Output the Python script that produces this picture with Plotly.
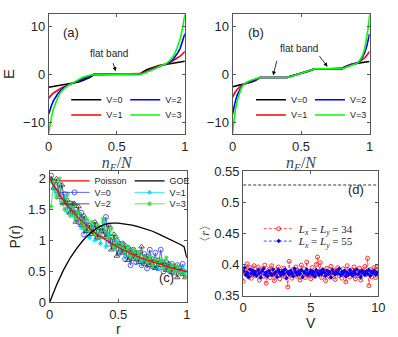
import plotly.graph_objects as go

# ---------------- panel (a) ----------------
xa = [0, 0.01, 0.02, 0.035, 0.05, 0.07, 0.09, 0.12, 0.145, 0.165, 0.19, 0.22, 0.25, 0.28, 0.3, 0.32, 0.333,
      0.4, 0.5, 0.6, 0.667, 0.68, 0.7, 0.72, 0.75, 0.78, 0.81, 0.835, 0.86, 0.89, 0.915, 0.935, 0.95, 0.965,
      0.98, 0.99, 1.0]
Ea_V0 = [-2.7, -2.65, -2.6, -2.5, -2.45, -2.35, -2.25, -2.15, -2.05, -2.0, -1.85, -1.6, -1.3, -0.95, -0.65, -0.3, 0,
         0, 0, 0, 0, 0.3, 0.65, 0.95, 1.3, 1.6, 1.85, 1.95, 2.05, 2.2, 2.3, 2.4, 2.45, 2.55, 2.65, 2.7, 2.75]
Ea_V1 = [-5.0, -4.6, -4.3, -3.9, -3.6, -3.2, -2.9, -2.5, -2.2, -2.0, -1.75, -1.4, -1.0, -0.65, -0.4, -0.15, 0,
         0, 0, 0, 0, 0.15, 0.4, 0.7, 1.05, 1.45, 1.75, 1.95, 2.15, 2.5, 2.9, 3.2, 3.5, 3.8, 4.2, 4.5, 4.8]
Ea_V2 = [-8.3, -7.3, -6.5, -5.5, -4.7, -3.9, -3.3, -2.6, -2.25, -2.0, -1.7, -1.25, -0.85, -0.5, -0.3, -0.12, 0,
         0, 0, 0, 0, 0.12, 0.3, 0.55, 0.95, 1.35, 1.7, 1.9, 2.1, 2.6, 3.2, 3.9, 4.6, 5.4, 6.6, 7.5, 8.5]
Ea_V3 = [-12.3, -10.5, -9.0, -7.2, -5.9, -4.6, -3.7, -2.8, -2.3, -2.0, -1.6, -1.0, -0.6, -0.35, -0.2, -0.08, 0,
         0, 0, 0, 0, 0.1, 0.25, 0.45, 0.8, 1.2, 1.6, 1.85, 2.2, 2.9, 3.8, 4.9, 6.0, 7.4, 9.2, 10.7, 12.5]

# ---------------- panel (b) ----------------
xb = [0, 0.01, 0.02, 0.035, 0.05, 0.065, 0.085, 0.11, 0.14, 0.17, 0.19, 0.2, 0.3, 0.4, 0.42, 0.45, 0.5, 0.55,
      0.58, 0.6, 0.7, 0.8, 0.81, 0.83, 0.86, 0.89, 0.91, 0.93, 0.95, 0.965, 0.98, 0.99, 1.0]
Eb_V0 = [-2.6, -2.55, -2.5, -2.4, -2.3, -2.15, -2.0, -1.85, -1.6, -1.25, -0.9, -0.67, -0.67, -0.67, -0.38, -0.1,
         0.24, 0.6, 0.9, 1.15, 1.15, 1.15, 1.45, 1.75, 2.05, 2.25, 2.35, 2.45, 2.5, 2.55, 2.6, 2.65, 2.7]
Eb_V1 = [-4.8, -4.2, -3.7, -3.1, -2.7, -2.35, -2.0, -1.75, -1.45, -1.1, -0.82, -0.67, -0.67, -0.67, -0.45, -0.18,
         0.24, 0.68, 0.97, 1.15, 1.15, 1.15, 1.35, 1.65, 2.0, 2.25, 2.35, 2.7, 3.1, 3.5, 4.0, 4.4, 4.8]
Eb_V2 = [-8.4, -6.9, -5.7, -4.3, -3.3, -2.6, -2.0, -1.65, -1.35, -1.0, -0.78, -0.67, -0.67, -0.67, -0.48, -0.2,
         0.24, 0.7, 0.98, 1.15, 1.15, 1.15, 1.3, 1.6, 1.95, 2.2, 2.35, 2.9, 3.7, 4.6, 6.0, 7.1, 8.5]
Eb_V3 = [-12.3, -9.6, -7.6, -5.4, -3.9, -2.8, -2.0, -1.55, -1.2, -0.9, -0.72, -0.67, -0.67, -0.67, -0.5, -0.2,
         0.24, 0.7, 0.98, 1.15, 1.15, 1.15, 1.25, 1.5, 1.85, 2.15, 2.35, 3.0, 4.1, 5.5, 7.7, 9.8, 12.5]

# ---------------- panel (c) ----------------
r_poi = [0, 0.1, 0.2, 0.3, 0.4, 0.5, 0.6, 0.7, 0.8, 0.9, 1.0]
P_poi = [2.0, 1.65, 1.39, 1.18, 1.02, 0.89, 0.78, 0.69, 0.62, 0.55, 0.5]
r_goe = [0, 0.05, 0.1, 0.15, 0.2, 0.25, 0.3, 0.35, 0.4, 0.45, 0.5, 0.55, 0.6, 0.65, 0.7, 0.75, 0.8, 0.85,
         0.9, 0.95, 0.98, 1.0]
P_goe = [0, 0.28, 0.52, 0.72, 0.88, 1.02, 1.13, 1.21, 1.26, 1.28, 1.28, 1.27, 1.25, 1.22, 1.19, 1.15, 1.10,
         1.05, 1.0, 0.94, 0.9, 0.72]
r_bins = [0.01, 0.03, 0.05, 0.07, 0.09, 0.11, 0.13, 0.15, 0.17, 0.19, 0.21, 0.23, 0.25, 0.27, 0.29, 0.31, 0.33,
          0.35, 0.37, 0.39, 0.41, 0.43, 0.45, 0.47, 0.49, 0.51, 0.53, 0.55, 0.57, 0.59, 0.61, 0.63, 0.65, 0.67,
          0.69, 0.71, 0.73, 0.75, 0.77, 0.79, 0.81, 0.83, 0.85, 0.87, 0.89, 0.91, 0.93, 0.95, 0.97, 0.99]
Pc_V0 = [2.05, 1.95, 1.80, 1.90, 1.65, 1.75, 1.50, 1.60, 1.45, 1.50, 1.30, 1.45, 1.10, 1.30, 1.20, 1.15, 1.25,
         1.05, 1.20, 1.10, 1.38, 0.95, 1.05, 0.90, 1.00, 0.80, 0.95, 0.70, 0.88, 0.60, 0.85, 0.65, 0.80, 0.60,
         0.78, 0.55, 0.85, 0.58, 0.80, 0.55, 0.85, 0.50, 0.65, 0.52, 0.62, 0.48, 0.60, 0.50, 0.62, 0.45]
Pc_V1 = [1.95, 1.85, 1.75, 1.78, 1.60, 1.70, 1.45, 1.55, 1.40, 1.35, 1.45, 1.20, 1.35, 1.15, 1.05, 1.25, 1.00,
         1.20, 0.95, 1.30, 0.90, 1.10, 0.95, 0.88, 0.98, 0.80, 0.90, 0.75, 0.85, 0.72, 0.78, 0.70, 0.75, 0.62,
         0.70, 0.65, 0.72, 0.58, 0.68, 0.55, 0.65, 0.58, 0.62, 0.50, 0.60, 0.52, 0.58, 0.48, 0.55, 0.50]
Pc_V2 = [2.00, 1.85, 2.00, 1.70, 1.90, 1.60, 1.65, 1.45, 1.60, 1.30, 1.55, 1.25, 1.40, 1.15, 1.25, 1.10, 1.30,
         1.05, 1.20, 1.15, 1.05, 1.25, 0.85, 1.10, 0.75, 0.95, 0.80, 0.92, 0.68, 0.85, 0.70, 0.80, 0.65, 0.90,
         0.62, 0.75, 0.60, 0.70, 0.55, 0.68, 0.60, 0.65, 0.52, 0.62, 0.48, 0.58, 0.40, 0.55, 0.45, 0.40]
Pc_V3 = [1.55, 1.95, 1.70, 2.00, 1.60, 1.50, 1.75, 1.40, 1.55, 1.35, 1.45, 1.30, 1.20, 1.35, 1.15, 1.30, 1.10,
         1.25, 1.05, 1.35, 1.15, 1.05, 1.20, 0.90, 1.05, 0.88, 0.95, 0.82, 0.90, 0.75, 0.85, 0.72, 0.80, 0.68,
         0.72, 0.65, 0.75, 0.60, 0.70, 0.62, 0.68, 0.55, 0.72, 0.52, 0.60, 0.50, 0.58, 0.48, 0.50, 0.42]

# ---------------- panel (d) ----------------
V_vals = [0.0, 0.1, 0.2, 0.3, 0.4, 0.5, 0.6, 0.7, 0.8, 0.9, 1.0, 1.1, 1.2, 1.3, 1.4, 1.5, 1.6, 1.7, 1.8, 1.9,
          2.0, 2.1, 2.2, 2.3, 2.4, 2.5, 2.6, 2.7, 2.8, 2.9, 3.0, 3.1, 3.2, 3.3, 3.4, 3.5, 3.6, 3.7, 3.8, 3.9,
          4.0, 4.1, 4.2, 4.3, 4.4, 4.5, 4.6, 4.7, 4.8, 4.9, 5.0, 5.1, 5.2, 5.3, 5.4, 5.5, 5.6, 5.7, 5.8, 5.9,
          6.0, 6.1, 6.2, 6.3, 6.4, 6.5, 6.6, 6.7, 6.8, 6.9, 7.0, 7.1, 7.2, 7.3, 7.4, 7.5, 7.6, 7.7, 7.8, 7.9,
          8.0, 8.1, 8.2, 8.3, 8.4, 8.5, 8.6, 8.7, 8.8, 8.9, 9.0, 9.1, 9.2, 9.3, 9.4, 9.5, 9.6, 9.7, 9.8, 9.9,
          10.0]
r_L34 = [0.373, 0.392, 0.386, 0.401, 0.380, 0.395, 0.378, 0.390, 0.398, 0.382,
         0.385, 0.396, 0.375, 0.389, 0.393, 0.381, 0.399, 0.370, 0.387, 0.392,
         0.379, 0.398, 0.384, 0.374, 0.391, 0.386, 0.396, 0.377, 0.389, 0.383,
         0.394, 0.380, 0.388, 0.364, 0.405, 0.384, 0.378, 0.392, 0.387, 0.396,
         0.381, 0.390, 0.375, 0.399, 0.386, 0.393, 0.379, 0.404, 0.383, 0.389,
         0.377, 0.395, 0.385, 0.381, 0.400, 0.412, 0.388, 0.403, 0.379, 0.391,
         0.384, 0.374, 0.394, 0.387, 0.380, 0.397, 0.383, 0.391, 0.376, 0.389,
         0.395, 0.382, 0.386, 0.378, 0.393, 0.389, 0.372, 0.398, 0.385, 0.380,
         0.391, 0.384, 0.396, 0.377, 0.388, 0.382, 0.394, 0.375, 0.390, 0.386,
         0.397, 0.384, 0.410, 0.366, 0.392, 0.380, 0.388, 0.395, 0.379, 0.396,
         0.385]
r_L55 = [0.389, 0.395, 0.383, 0.387, 0.380, 0.392, 0.385, 0.390, 0.384, 0.388,
         0.382, 0.391, 0.386, 0.379, 0.389, 0.393, 0.384, 0.387, 0.381, 0.390,
         0.386, 0.383, 0.392, 0.385, 0.388, 0.380, 0.391, 0.387, 0.383, 0.389,
         0.385, 0.392, 0.378, 0.388, 0.384, 0.390, 0.386, 0.381, 0.393, 0.387,
         0.383, 0.389, 0.385, 0.391, 0.380, 0.388, 0.386, 0.392, 0.383, 0.387,
         0.390, 0.384, 0.388, 0.381, 0.391, 0.386, 0.383, 0.389, 0.385, 0.392,
         0.387, 0.382, 0.390, 0.385, 0.388, 0.379, 0.391, 0.386, 0.384, 0.389,
         0.386, 0.393, 0.383, 0.388, 0.385, 0.390, 0.381, 0.387, 0.384, 0.391,
         0.386, 0.382, 0.389, 0.385, 0.392, 0.384, 0.388, 0.380, 0.390, 0.386,
         0.383, 0.389, 0.385, 0.391, 0.382, 0.388, 0.386, 0.390, 0.384, 0.387,
         0.385]
V_ref = [0, 10]
r_goe_ref = [0.528, 0.528]
r_poi_ref = [0.386, 0.386]

W, H = 398, 337
SANS = "Liberation Sans, Arial, sans-serif"
SERIF = "Liberation Serif, DejaVu Serif, serif"
TXT = "#262626"


def px(x):
    return x / W


def py(y):
    return 1 - y / H


fig = go.Figure()

band_colors = {"V=0": "#000000", "V=1": "#ff0000", "V=2": "#0000ff", "V=3": "#00ff00"}
row_of = {"V=0": 0, "V=2": 0, "V=1": 1, "V=3": 1}
rank_of = {"V=0": 1, "V=2": 2, "V=1": 1, "V=3": 2}

for (xs, sets, xa_, ya_, legs) in [
    (xa, [("V=0", Ea_V0), ("V=1", Ea_V1), ("V=2", Ea_V2), ("V=3", Ea_V3)], "x", "y", ("legend", "legend2")),
    (xb, [("V=0", Eb_V0), ("V=1", Eb_V1), ("V=2", Eb_V2), ("V=3", Eb_V3)], "x2", "y2", ("legend3", "legend4")),
]:
    for name, ys in sets:
        fig.add_trace(go.Scatter(x=xs, y=ys, mode="lines", name=name, xaxis=xa_, yaxis=ya_,
                                 line=dict(color=band_colors[name], width=1.6),
                                 legend=legs[row_of[name]], legendrank=rank_of[name]))

# panel (c)
fig.add_trace(go.Scatter(x=r_bins, y=Pc_V0, mode="lines+markers", name="V=0", xaxis="x3", yaxis="y3",
                         line=dict(color="#3333ff", width=0.8),
                         marker=dict(symbol="circle-open", size=5, color="#3333ff", line=dict(width=0.8)),
                         legend="legend6", legendrank=1))
fig.add_trace(go.Scatter(x=r_bins, y=Pc_V1, mode="lines+markers", name="V=1", xaxis="x3", yaxis="y3",
                         line=dict(color="#00e5ff", width=0.8),
                         marker=dict(symbol="asterisk-open", size=4, color="#00e5ff", line=dict(width=1)),
                         legend="legend6", legendrank=2))
fig.add_trace(go.Scatter(x=r_bins, y=Pc_V2, mode="lines+markers", name="V=2", xaxis="x3", yaxis="y3",
                         line=dict(color="#333333", width=0.8),
                         marker=dict(symbol="triangle-up-open", size=5, color="#333333", line=dict(width=0.8)),
                         legend="legend7", legendrank=1))
fig.add_trace(go.Scatter(x=r_bins, y=Pc_V3, mode="lines+markers", name="V=3", xaxis="x3", yaxis="y3",
                         line=dict(color="#33dd33", width=0.8),
                         marker=dict(symbol="asterisk-open", size=4, color="#33dd33", line=dict(width=1)),
                         legend="legend7", legendrank=2))
fig.add_trace(go.Scatter(x=r_poi, y=P_poi, mode="lines", name="Poisson", xaxis="x3", yaxis="y3",
                         line=dict(color="#ff0000", width=1.3, shape="spline"),
                         legend="legend5", legendrank=1))
fig.add_trace(go.Scatter(x=r_goe, y=P_goe, mode="lines", name="GOE", xaxis="x3", yaxis="y3",
                         line=dict(color="#000000", width=1.3),
                         legend="legend5", legendrank=2))

# panel (d)
fig.add_trace(go.Scatter(x=V_ref, y=r_goe_ref, mode="lines", showlegend=False, xaxis="x4", yaxis="y4",
                         line=dict(color="#000000", width=0.8, dash="3px,2px")))
fig.add_trace(go.Scatter(x=V_ref, y=r_poi_ref, mode="lines", showlegend=False, xaxis="x4", yaxis="y4",
                         line=dict(color="#000000", width=0.8, dash="3px,2px")))
fig.add_trace(go.Scatter(x=V_vals, y=r_L34, mode="lines+markers",
                         name="<i>L<sub>x</sub></i> = <i>L<sub>y</sub></i> = 34",
                         xaxis="x4", yaxis="y4",
                         line=dict(color="#ff0000", width=0.7, dash="3px,2px"),
                         marker=dict(symbol="circle-open", size=4, color="#ff0000", line=dict(width=0.8)),
                         legend="legend8"))
fig.add_trace(go.Scatter(x=V_vals, y=r_L55, mode="lines+markers",
                         name="<i>L<sub>x</sub></i> = <i>L<sub>y</sub></i> = 55",
                         xaxis="x4", yaxis="y4",
                         line=dict(color="#0000ff", width=0.7, dash="3px,2px"),
                         marker=dict(symbol="diamond", size=3.5, color="#0000ff"),
                         legend="legend9"))

axis_common = dict(showline=True, linecolor="#555555", linewidth=1, mirror="ticks", ticks="inside",
                   ticklen=3, tickcolor="#555555", showgrid=False, zeroline=False,
                   tickfont=dict(family=SANS, size=13, color=TXT))

nE_title = "<i>n</i><sub><i>E</i></sub>/<i>N</i>"

fig.update_layout(
    width=W, height=H, margin=dict(l=0, r=0, t=0, b=0),
    paper_bgcolor="white", plot_bgcolor="white",
    font=dict(family=SANS, color=TXT),
    xaxis=dict(domain=[px(46), px(186)], anchor="y", range=[0, 1], tickvals=[0, 0.5, 1],
               ticktext=["0", "0.5", "1"],
               title=dict(text=nE_title, font=dict(family=SERIF, size=16, color="#444444"), standoff=0),
               **axis_common),
    yaxis=dict(domain=[py(133), py(7)], anchor="x", range=[-12.5, 12.7], tickvals=[-10, 0, 10],
               title=dict(text="E", font=dict(family=SANS, size=15, color=TXT), standoff=8), **axis_common),
    xaxis2=dict(domain=[px(235), px(376)], anchor="y2", range=[0, 1], tickvals=[0, 0.5, 1],
                ticktext=["0", "0.5", "1"],
                title=dict(text=nE_title, font=dict(family=SERIF, size=16, color="#444444"), standoff=0),
                **axis_common),
    yaxis2=dict(domain=[py(133), py(7)], anchor="x2", range=[-12.5, 12.7], tickvals=[-10, 0, 10],
                **axis_common),
    xaxis3=dict(domain=[px(47), px(188)], anchor="y3", range=[0, 1], tickvals=[0, 0.5, 1],
                ticktext=["0", "0.5", "1"],
                title=dict(text="r", font=dict(family=SANS, size=14, color=TXT), standoff=1), **axis_common),
    yaxis3=dict(domain=[py(309), py(172)], anchor="x3", range=[0, 2.12], tickvals=[0, 0.5, 1, 1.5, 2],
                ticktext=["0", "0.5", "1", "1.5", "2"],
                title=dict(text="P(r)", font=dict(family=SANS, size=14, color=TXT), standoff=4), **axis_common),
    xaxis4=dict(domain=[px(246), px(385)], anchor="y4", range=[0, 10], tickvals=[0, 5, 10],
                title=dict(text="V", font=dict(family=SANS, size=14, color=TXT), standoff=1), **axis_common),
    yaxis4=dict(domain=[py(302), py(172)], anchor="x4", range=[0.35, 0.55],
                tickvals=[0.35, 0.4, 0.45, 0.5, 0.55], ticktext=["0.35", "0.4", "0.45", "0.5", "0.55"],
                title=dict(text="〈<i>r</i>〉", font=dict(family=SERIF, size=12, color=TXT), standoff=2),
                **axis_common),
)

leg_common = dict(orientation="h", xanchor="left", yanchor="middle", bgcolor="rgba(0,0,0,0)",
                  font=dict(family=SANS, size=9, color=TXT), entrywidthmode="pixels",
                  tracegroupgap=0, itemwidth=30)
serif_leg = {**leg_common, "font": dict(family=SERIF, size=11, color=TXT)}
fig.update_layout(
    legend=dict(x=px(64), y=py(97), entrywidth=14, **leg_common),
    legend2=dict(x=px(64), y=py(113), entrywidth=14, **leg_common),
    legend3=dict(x=px(254), y=py(97), entrywidth=14, **leg_common),
    legend4=dict(x=px(254), y=py(113), entrywidth=14, **leg_common),
    legend5=dict(x=px(52), y=py(182), entrywidth=30, **leg_common),
    legend6=dict(x=px(52), y=py(194), entrywidth=30, **leg_common),
    legend7=dict(x=px(52), y=py(206), entrywidth=30, **leg_common),
    legend8=dict(x=px(262), y=py(232), **serif_leg),
    legend9=dict(x=px(262), y=py(245), **serif_leg),
)

ann = []
lab_font = dict(family=SANS, size=13, color=TXT)
ann.append(dict(text="(a)", x=0.089, y=0.92, xref="x domain", yref="y domain", showarrow=False, font=lab_font))
ann.append(dict(text="(b)", x=0.096, y=0.92, xref="x2 domain", yref="y2 domain", showarrow=False, font=lab_font))
ann.append(dict(text="(c)", x=0.918, y=0.113, xref="x3 domain", yref="y3 domain", showarrow=False, font=lab_font))
ann.append(dict(text="(d)", x=0.91, y=0.931, xref="x4 domain", yref="y4 domain", showarrow=False, font=lab_font))
fb_font = dict(family=SANS, size=10, color=TXT)
ann.append(dict(text="flat band", x=0.443, y=4.4, xref="x", yref="y", showarrow=False, font=fb_font))
ann.append(dict(text="", x=0.493, y=0.66, ax=0.469, ay=2.66, xref="x", yref="y", axref="x", ayref="y",
                showarrow=True, arrowhead=2, arrowsize=1, arrowwidth=0.8, arrowcolor="#000000"))
ann.append(dict(text="flat band", x=0.484, y=5.33, xref="x2", yref="y2", showarrow=False, font=fb_font))
ann.append(dict(text="", x=0.296, y=-0.2, ax=0.326, ay=3.14, xref="x2", yref="y2", axref="x2", ayref="y2",
                showarrow=True, arrowhead=2, arrowsize=1, arrowwidth=0.8, arrowcolor="#000000"))
ann.append(dict(text="", x=0.693, y=1.6, ax=0.626, ay=4.13, xref="x2", yref="y2", axref="x2", ayref="y2",
                showarrow=True, arrowhead=2, arrowsize=1, arrowwidth=0.8, arrowcolor="#000000"))
fig.update_layout(annotations=ann)

fig.write_html("out.html", config={"displayModeBar": False},
               post_script="document.body.style.margin='0px';")
